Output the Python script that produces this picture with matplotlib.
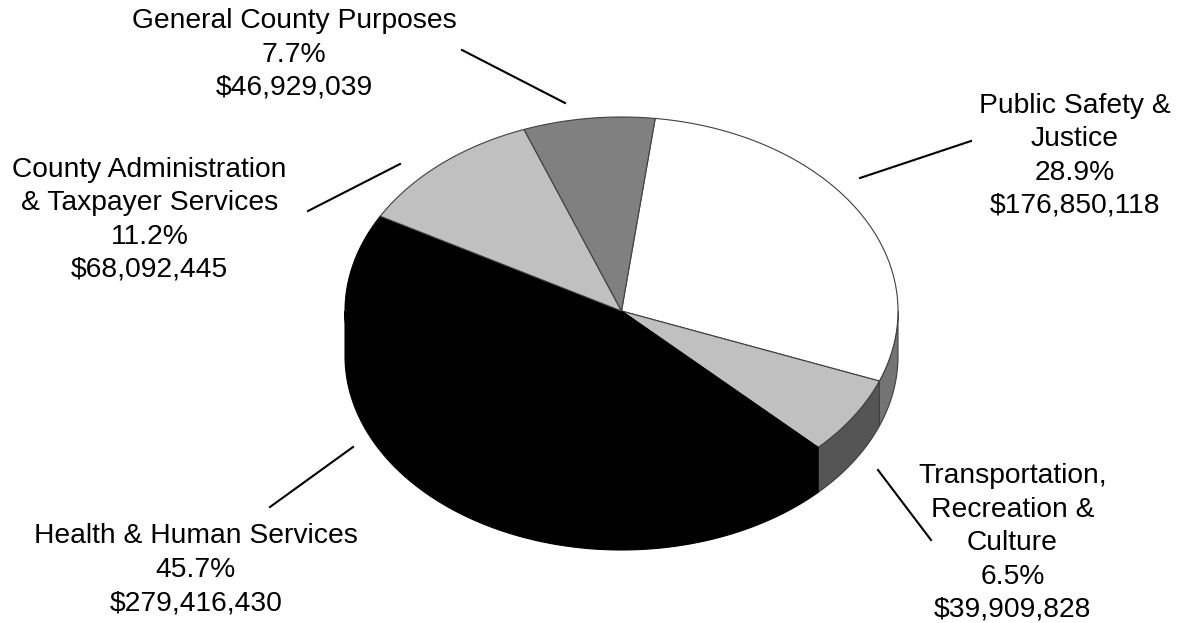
import numpy as np
import matplotlib.pyplot as plt
from matplotlib.patches import Polygon

plt.rcParams['font.family'] = ['Liberation Sans', 'DejaVu Sans']

# data, clockwise from the top
names = ["Public Safety &\nJustice",
         "Transportation,\nRecreation &\nCulture",
         "Health & Human Services",
         "County Administration\n& Taxpayer Services",
         "General County Purposes"]
percents = [28.9, 6.5, 45.7, 11.2, 7.7]
amounts = [176850118, 39909828, 279416430, 68092445, 46929039]

top_colors = ["#ffffff", "#c0c0c0", "#000000", "#c0c0c0", "#808080"]
side_colors = ["#747474", "#555555", "#000000", "#555555", "#404040"]

# layout (pixels); text y is the baseline of the last line
cx, cy, rx, ry, depth = 621.5, 311, 276.5, 194, 45
start = 83.0
text_pos = [(1075, 213), (1012.5, 617), (196, 610), (149.5, 277), (294, 95)]
leaders = [((860, 178), (971, 141)),
           ((878, 470), (931, 540)),
           ((270, 507), (353, 447)),
           ((308, 211), (400, 164)),
           ((462, 50), (565, 103))]


def pt(theta, dz=0.0):
    t = np.radians(theta)
    return cx + rx * np.cos(t), cy - ry * np.sin(t) + dz


def arc(a, b, dz=0.0, n=200):
    th = np.linspace(a, b, n)
    x, y = pt(th, dz)
    return np.column_stack([x, y])


def edge_for(c):
    return '#000000' if c == '#000000' else '#404040'


fig = plt.figure(figsize=(11.78, 6.23), dpi=100)
ax = fig.add_axes([0, 0, 1, 1])
ax.set_xlim(0, 1178)
ax.set_ylim(623, 0)
ax.axis('off')

total = float(sum(amounts))
bounds = [start]
for a in amounts:
    bounds.append(bounds[-1] - a / total * 360.0)

# side walls (front half only)
for i in range(len(amounts)):
    hi, lo = bounds[i], bounds[i + 1]
    for k in (-360, 0, 360):
        a = max(lo, -180 + k)
        b = min(hi, 0 + k)
        if b - a <= 0:
            continue
        top = arc(a, b)
        bot = arc(b, a, depth)
        ax.add_patch(Polygon(np.vstack([top, bot]), closed=True,
                             facecolor=side_colors[i],
                             edgecolor=edge_for(side_colors[i]),
                             lw=0.8, zorder=1))

# top face
for i in range(len(amounts)):
    pts = np.vstack([[cx, cy], arc(bounds[i], bounds[i + 1])])
    ax.add_patch(Polygon(pts, closed=True, facecolor=top_colors[i],
                         edgecolor=edge_for(top_colors[i]), lw=0.8, zorder=2))

# labels and leader lines
for i in range(len(amounts)):
    txt = "%s\n%.1f%%\n$%s" % (names[i], percents[i], format(amounts[i], ","))
    ax.text(text_pos[i][0], text_pos[i][1], txt, ha='center', va='baseline',
            fontsize=20.3, linespacing=1.37, color='black')
    (x0, y0), (x1, y1) = leaders[i]
    ax.plot([x0, x1], [y0, y1], color='black', lw=1.5)

fig.savefig("out.png", dpi=100)
